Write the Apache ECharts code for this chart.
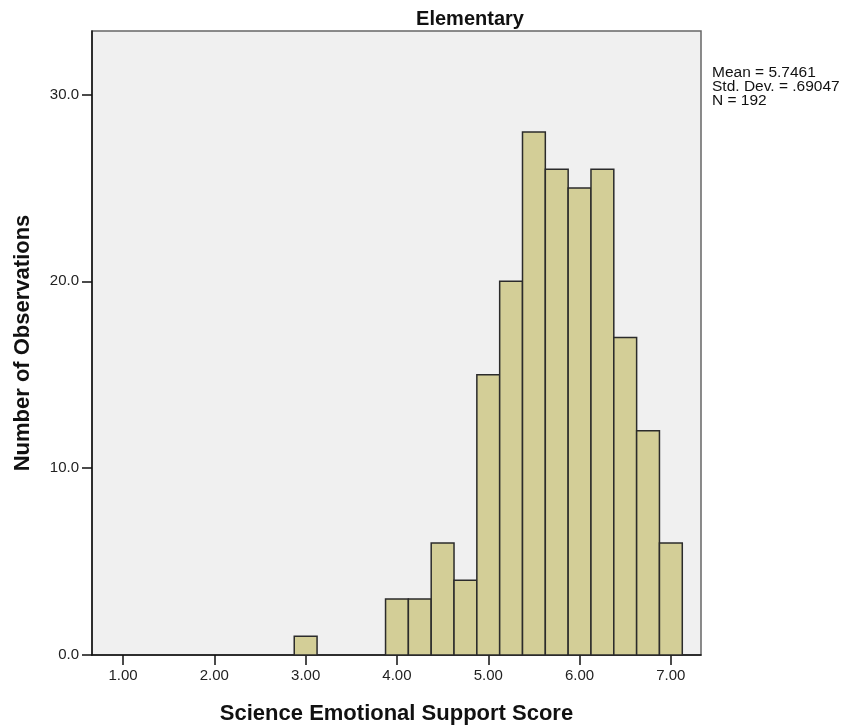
<!DOCTYPE html>
<html>
<head>
<meta charset="utf-8">
<script src="https://cdn.jsdelivr.net/npm/echarts@6/dist/echarts.min.js"></script>
<style>
  html, body { margin: 0; padding: 0; background: #ffffff; }
  #chart { width: 852px; height: 726px; }
</style>
</head>
<body>
<div id="chart"></div>
<script>
// Histogram of science emotional support scores, elementary classrooms
const binCenters = [3.0, 4.0, 4.25, 4.5, 4.75, 5.0, 5.25, 5.5, 5.75, 6.0, 6.25, 6.5, 6.75, 7.0];
const counts     = [1,   3,   3,    6,   4,    15,  20,   28,  26,   25,  26,   17,  12,   6];
const binWidth = 0.25;
const xTicks = [1, 2, 3, 4, 5, 6, 7];
const yTicks = [0, 10, 20, 30];
const statLines = ['Mean = 5.7461', 'Std. Dev. = .69047', 'N = 192'];

const FONT = '"Liberation Sans", Arial, sans-serif';
const chart = echarts.init(document.getElementById('chart'), null, { renderer: 'canvas' });

chart.setOption({
  animation: false,
  backgroundColor: '#ffffff',
  title: {
    text: 'Elementary',
    left: 465, top: 4, textAlign: 'center',
    textStyle: { fontFamily: FONT, fontSize: 20, fontWeight: 'bold', color: '#111' }
  },
  graphic: [{
    type: 'text',
    left: 712, top: 65,
    style: {
      text: statLines.join('\n'),
      fontFamily: FONT, fontSize: 15.5, lineHeight: 14, fill: '#111'
    }
  }],
  grid: {
    left: 92, right: 151, top: 31, bottom: 71,
    outerBoundsMode: 'none',
    show: true, backgroundColor: '#f0f0f0', borderColor: '#666666', borderWidth: 1.5
  },
  xAxis: {
    type: 'value', min: 0.66, max: 7.33,
    name: 'Science Emotional Support Score',
    nameLocation: 'middle', nameGap: 48,
    nameTextStyle: { fontFamily: FONT, fontSize: 22, fontWeight: 'bold', color: '#111' },
    axisLine: { show: true, lineStyle: { color: '#111', width: 1.5 } },
    axisTick: { show: true, length: 10, customValues: xTicks, lineStyle: { color: '#111', width: 1.5 } },
    axisLabel: {
      customValues: xTicks, margin: 13,
      formatter: v => v.toFixed(2),
      fontFamily: FONT, fontSize: 15, color: '#222'
    },
    splitLine: { show: false }
  },
  yAxis: {
    type: 'value', min: 0, max: 33.4,
    name: 'Number of Observations',
    nameLocation: 'middle', nameGap: 58, nameRotate: 90,
    nameTextStyle: { fontFamily: FONT, fontSize: 22, fontWeight: 'bold', color: '#111' },
    axisLine: { show: true, lineStyle: { color: '#111', width: 1.5 } },
    axisTick: { show: true, length: 10, customValues: yTicks, lineStyle: { color: '#111', width: 1.5 } },
    axisLabel: {
      customValues: yTicks, margin: 13,
      formatter: v => v.toFixed(1),
      fontFamily: FONT, fontSize: 15, color: '#222'
    },
    splitLine: { show: false }
  },
  series: [{
    type: 'custom',
    data: binCenters.map((c, i) => [c, counts[i]]),
    renderItem: (params, api) => {
      const c = api.value(0), n = api.value(1);
      const p0 = api.coord([c - binWidth / 2, n]);
      const p1 = api.coord([c + binWidth / 2, 0]);
      return {
        type: 'rect',
        shape: { x: p0[0], y: p0[1], width: p1[0] - p0[0], height: p1[1] - p0[1] },
        style: { fill: '#d3ce97', stroke: '#2b2b2b', lineWidth: 1.5 }
      };
    }
  }]
});
</script>
</body>
</html>
